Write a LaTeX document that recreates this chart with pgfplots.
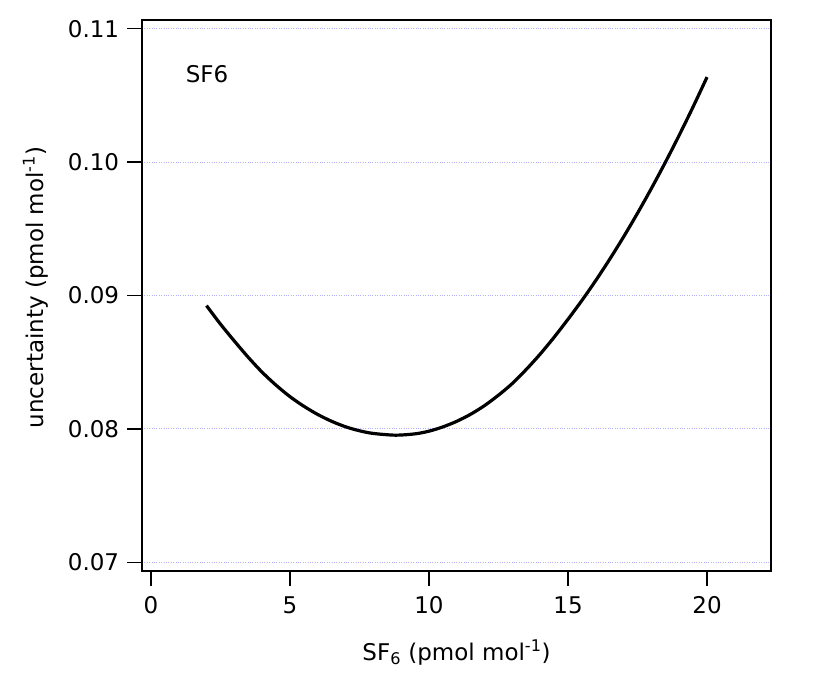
\documentclass[border=0pt]{standalone}
\usepackage{fontspec}
\setmainfont{DejaVu Sans}
\usepackage{pgfplots}
\pgfplotsset{compat=1.18}
\definecolor{gridblue}{RGB}{178,178,255}

\begin{document}
\fontsize{23}{27}\selectfont
\begin{tikzpicture}
    \begin{axis}[
        name=ax,
        scale only axis,
        width=629pt, height=551pt,
        xmin=-0.32, xmax=22.3,
        ymin=0.06935, ymax=0.11065,
        axis line style={line width=1.5pt},
        tick style={line width=1.5pt, black},
        major tick length=15pt,
        tick align=outside,
        tick pos=left,
        xtick={0,5,10,15,20},
        ytick={0.07,0.08,0.09,0.10,0.11},
        yticklabel style={/pgf/number format/.cd, fixed, fixed zerofill, precision=2},
        xticklabel style={yshift=-3pt},
        /pgf/number format/assume math mode=true,
        ymajorgrids,
        grid style={dotted, gridblue, line width=1pt},
        xlabel={SF\textsubscript{6} (pmol mol\textsuperscript{-1})},
        ylabel={uncertainty (pmol mol\textsuperscript{-1})},
        xlabel style={yshift=-10pt},
        ylabel style={yshift=4pt, xshift=8pt},
        clip=false,
    ]
        % fitted uncertainty curve
        \addplot [black, line width=3.2pt, smooth] coordinates {
        (2, 0.08924)(2.5, 0.08786)(3, 0.08659)(3.5, 0.08537)(4, 0.08425)
        (4.5, 0.08328)(5, 0.08242)(5.5, 0.08170)(6, 0.08108)(6.5, 0.08057)
        (7, 0.08016)(7.5, 0.07986)(8, 0.07966)(8.8, 0.07953)(9.5, 0.07963)
        (10, 0.07983)(10.5, 0.08015)(11, 0.08057)(11.5, 0.08110)(12, 0.08175)
        (12.5, 0.08253)(13, 0.08341)(13.5, 0.08446)(14, 0.08561)(14.5, 0.08687)
        (15, 0.08822)(15.5, 0.08963)(16, 0.09113)(16.5, 0.09272)(17, 0.09440)
        (17.5, 0.09617)(18, 0.09803)(18.5, 0.09998)(19, 0.10202)(19.5, 0.10415)
        (20, 0.10637)
        };
        \node [anchor=west, inner sep=0pt] at (axis cs:1.25,0.1066) {SF6};
    \end{axis}
    \path[use as bounding box] ([xshift=-142pt,yshift=-102pt]ax.south west)
        rectangle ([xshift=62pt,yshift=20pt]ax.north east);
\end{tikzpicture}
\end{document}
